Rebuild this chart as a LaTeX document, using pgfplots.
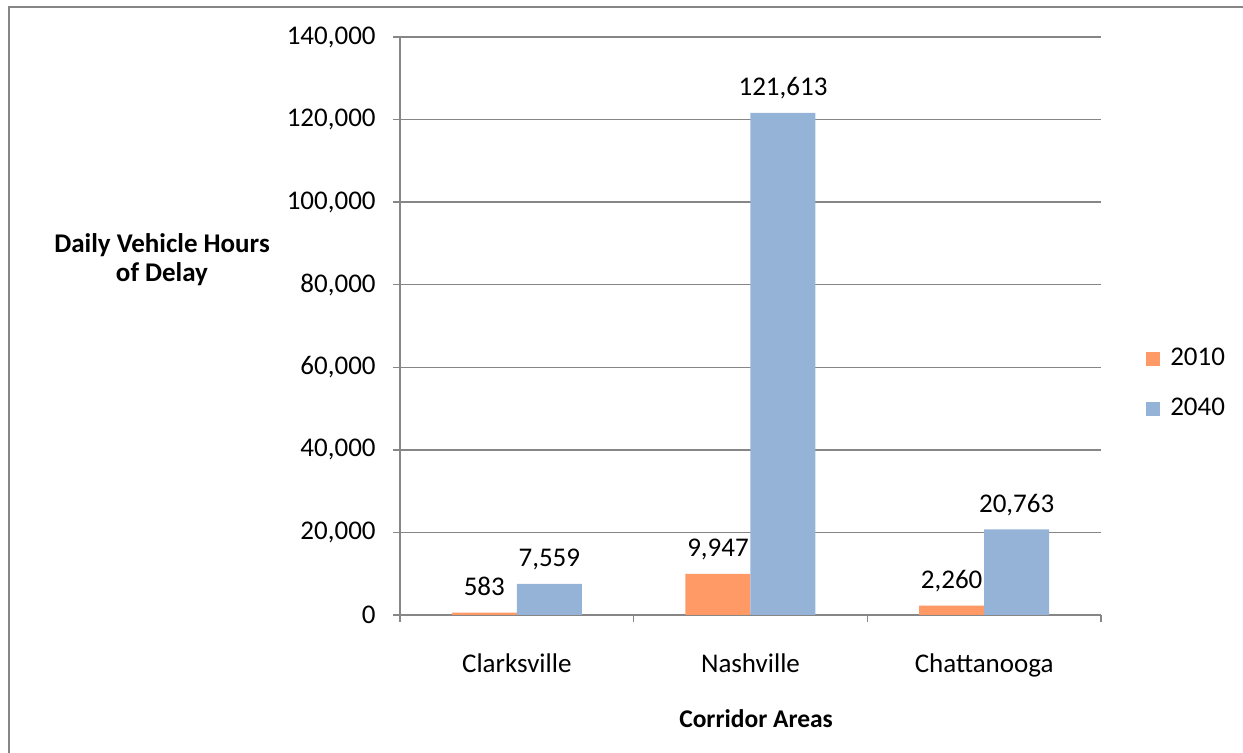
\documentclass[border=0pt]{standalone}
\usepackage{fontspec}
\setmainfont{Carlito}
\usepackage{pgfplots}
\pgfplotsset{compat=1.18}

\definecolor{bar2010}{RGB}{255,153,102}
\definecolor{bar2040}{RGB}{149,179,215}
\definecolor{axisgray}{RGB}{134,134,134}

\newcommand{\labelfont}{\fontsize{12.75}{15.5}\selectfont\bfseries}
\newcommand{\ylabelfont}{\fontsize{13.5}{14.5}\selectfont\bfseries}

\begin{document}
\fontsize{13.5}{16}\selectfont
\begin{tikzpicture}
\useasboundingbox (0,0) rectangle (621.5pt,376.5pt);
% chart area frame
\draw[axisgray, line width=0.7pt] (4.5pt,-2pt) -- (4.5pt,373pt) -- (624pt,373pt);
\begin{axis}[
  at={(200pt,69pt)}, anchor=south west,
  scale only axis, width=350.5pt, height=289pt,
  ybar=0pt, bar width=32.5pt,
  clip=false,
  xmin=-0.5, xmax=2.5, ymin=0, ymax=140000,
  xtick={0,1,2}, xticklabels={Clarksville,Nashville,Chattanooga},
  minor xtick={-0.5,0.5,1.5,2.5},
  ytick={0,20000,40000,60000,80000,100000,120000,140000},
  scaled y ticks=false,
  /pgf/number format/fixed,
  /pgf/number format/1000 sep={,},
  /pgf/number format/assume math mode=true,
  ymajorgrids, grid style={axisgray, line width=0.7pt},
  axis lines*=left,
  axis line style={axisgray, line width=0.7pt},
  tick align=outside, tick pos=left,
  major tick length=3.5pt, minor tick length=3.5pt,
  every tick/.style={axisgray, line width=0.7pt},
  every major x tick/.style={draw=none},
  xticklabel style={yshift=-11pt},
  yticklabel style={xshift=-4pt},
  nodes near coords,
  nodes near coords style={anchor=base, inner sep=0pt, yshift=8.5pt, text=black},
  xlabel={\labelfont Corridor Areas},
  xlabel style={at={(rel axis cs:0.508,-0.18)}, anchor=center},
  legend style={at={(1.064,0.40)}, anchor=west, draw=none, fill=none,
    row sep=10pt, inner sep=0pt, font=\fontsize{13.5}{16}\selectfont,
    /tikz/every odd column/.append style={column sep=3pt}},
  legend cell align=left,
  legend image code/.code={\fill[#1] (0pt,-3.5pt) rectangle (7pt,3.5pt);},
]
\addplot[fill=bar2010, draw=none] coordinates {(0,583) (1,9947) (2,2260)};
\addplot[fill=bar2040, draw=none] coordinates {(0,7559) (1,121613) (2,20763)};
\legend{2010,2040}
\node[align=center, font=\ylabelfont, inner sep=0pt] at (rel axis cs:-0.3395,0.615)
  {Daily Vehicle Hours\\of Delay};
\end{axis}
\end{tikzpicture}
\end{document}
